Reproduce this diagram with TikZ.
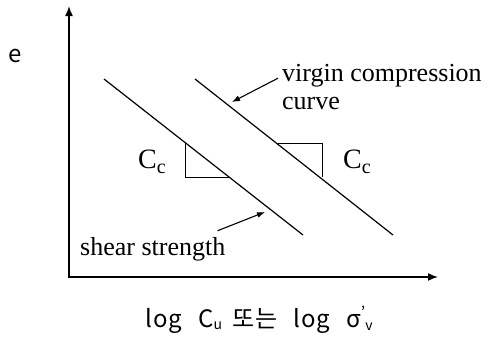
\documentclass[tikz,border=0pt]{standalone}
\usepackage{fontspec}
\setmainfont{Liberation Serif}
\newfontfamily\krfont{Noto Sans CJK KR}
\usetikzlibrary{arrows.meta, positioning}

\begin{document}
\begin{tikzpicture}[x=1pt,y=-1pt,
  axis/.style={line width=1.5pt},
  loglin/.style={line width=1.2pt},
  pointer/.style={line width=1.1pt,-{Latex[length=8pt,width=6pt]}},
  lbl/.style={font=\fontsize{26}{28}\selectfont, inner sep=0pt},
  krlbl/.style={font=\krfont\fontsize{24}{26}\selectfont, inner sep=0pt}]
  \useasboundingbox (0,0) rectangle (491,338);

  \coordinate (ytop) at (69,6);
  \coordinate (orig) at (69,277);
  \coordinate (xend) at (438,277);
  \draw[axis, {Latex[length=10pt,width=8pt]}-{Latex[length=10pt,width=8pt]}] (ytop) -- (orig) -- (xend);

  \coordinate (s1) at (104,79);
  \coordinate (s2) at (303,235);
  \coordinate (v1) at (195,79);
  \coordinate (v2) at (393,235);
  \draw[loglin] (s1) -- (s2);
  \draw[loglin] (v1) -- (v2);

  \draw[loglin, line width=1pt] (185,143) |- (230,177);
  \draw[loglin, line width=1pt] (278,143) -| (322,177);

  \node[lbl, font=\fontsize{28}{30}\selectfont] (ccleft) at (152,162) {C\raisebox{-5pt}{\fontsize{20}{20}\selectfont c}};
  \node[lbl, font=\fontsize{28}{30}\selectfont] (ccright) at (357,162) {C\raisebox{-5pt}{\fontsize{20}{20}\selectfont c}};

  \node[lbl, anchor=base west] (virgin) at (282,81) {virgin compression};
  \node[lbl, anchor=base west] (curve) at (282,109) {curve};
  \coordinate (vtip) at (232,102);
  \draw[pointer] ([shift={(-4,3)}]virgin.west) -- (vtip);

  \node[lbl, anchor=base west] (shear) at (80,255) {shear strength};
  \coordinate (stip) at (265,212);
  \draw[pointer] ([shift={(-8,-6)}]shear.north east) -- (stip);

  \node[krlbl] (yname) at (15,56) {e};
  \node[krlbl] (xname) at (259,320) {l\kern1pt o\kern1pt g\ \ \ C\raisebox{-2pt}{\fontsize{14}{14}\selectfont u}\ \ 또는\ \ \ l\kern1pt o\kern1pt g\ \ \ σ\raisebox{9pt}{\fontsize{16}{16}\selectfont ’}\raisebox{-3pt}{\fontsize{14}{14}\selectfont v}};
\end{tikzpicture}
\end{document}
